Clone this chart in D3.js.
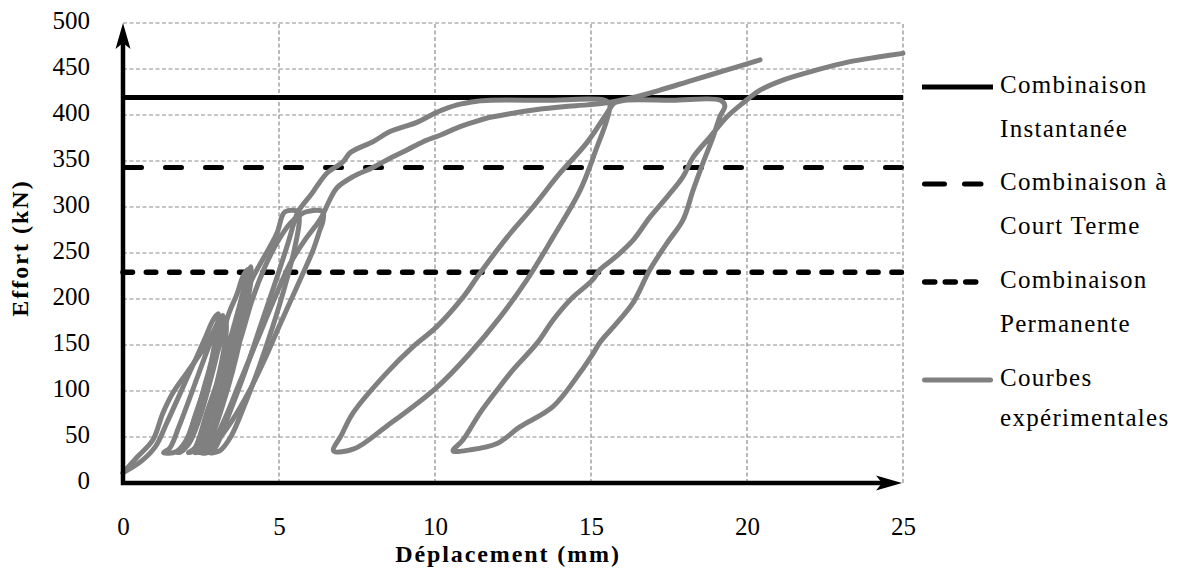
<!DOCTYPE html>
<html>
<head>
<meta charset="utf-8">
<script src="https://cdn.jsdelivr.net/npm/d3@7"></script>
<style>
  html, body { margin: 0; padding: 0; background: #fff; }
  svg { display: block; }
</style>
</head>
<body>
<svg id="chart" width="1181" height="583"></svg>
<script>
// ---------------- DATA ----------------
const xTicks = [0, 5, 10, 15, 20, 25];
const yTicks = [0, 50, 100, 150, 200, 250, 300, 350, 400, 450, 500];
const xTitle = "Déplacement (mm)";
const yTitle = "Effort (kN)";

const combNames = ["Instantanée", "Court Terme", "Permanente"];
const combValues = [419, 343, 229];

const legendLabels = [
  ["Combinaison", "Instantanée"],
  ["Combinaison à", "Court Terme"],
  ["Combinaison", "Permanente"],
  ["Courbes", "expérimentales"]
];

// Experimental curve 1 : [displacement mm, force kN]
const specimenA = [
  [0,11],[0.45,28],[0.96,47],[1.28,76],[1.6,98],[2.05,120],[2.56,145],[2.9,165],[3.1,178],
  [3.05,165],[2.9,140],[2.65,110],[2.35,75],[2.0,45],[1.7,34],[1.3,33],[1.5,38],
  [1.8,62],[2.2,98],[2.6,135],[2.95,165],[3.2,182],
  [3.15,165],[3.0,138],[2.75,105],[2.45,70],[2.1,42],[1.8,33],[2.0,38],
  [2.35,72],[2.75,112],[3.1,150],[3.4,185],[3.65,205],[3.85,225],[4.0,232],
  [3.98,215],[3.85,185],[3.65,150],[3.4,115],[3.1,80],[2.8,50],[2.5,35],[2.3,33],[2.5,38],
  [2.85,75],[3.25,118],[3.6,160],[3.85,200],[4.17,224],[4.71,257],[4.94,272],[5.1,290],[5.2,295],[5.6,295],
  [5.65,285],[5.5,255],[5.2,215],[4.8,170],[4.35,125],[3.9,85],[3.45,50],[3.1,35],[2.75,33],[2.95,38],
  [3.4,75],[3.9,120],[4.4,170],[4.9,220],[5.3,262],[5.5,285],[5.61,295],
  [6.06,315],[6.54,337],[7.05,349],[7.28,359],[8.01,371],[8.56,382],[9.42,392],[10.06,403],[10.71,411],[11.35,415],[11.8,416],
  [13.5,416],[15.45,416],[15.6,412],
  [15.51,395],[15.19,365],[14.65,318],[13.78,267],[12.95,221],[12.08,180],[11.12,141],[10.06,104],[8.46,62],[7.4,37],[6.75,35],
  [7.0,52],[7.37,76],[8.46,120],[9.29,148],[10.06,170],[10.9,202],[11.44,228],[12.31,267],[13.14,300],[14.01,337],[14.87,370],[15.51,402],[15.75,413],[16.1,416],
  [17.6,416],[19.15,416],[19.29,410],
  [19.13,398],[18.91,376],[18.59,348],[18.27,318],[17.95,286],[17.44,261],[16.89,232],[16.35,196],[15.83,174],[15.29,153],[15.07,141],[14.65,120],[13.78,83],[12.72,61],[11.99,43],[11.12,36],[10.58,35],
  [10.9,47],[11.44,76],[11.99,101],[12.5,123],[13.27,152],[13.78,177],[14.33,199],[15.06,221],[15.29,232],[15.8,246],[16.35,264],[16.89,289],[17.44,311],[17.95,333],[18.27,354],[18.81,376],[19.36,398],[19.87,413],[20.42,427],[21.15,438],[22.24,449],[23.3,458],[24.2,463],[25,467]
];

// Experimental curve 2 : [displacement mm, force kN]
const specimenB = [
  [0,11],[0.6,24],[1.05,40],[1.4,65],[1.8,95],[2.2,125],[2.6,155],[2.9,178],[3.05,184],
  [3.0,165],[2.85,135],[2.6,100],[2.3,65],[2.0,40],[1.75,33],[1.95,38],
  [2.3,72],[2.7,112],[3.05,150],[3.3,178],
  [3.3,160],[3.15,130],[2.9,95],[2.6,60],[2.3,36],[2.1,33],[2.3,38],
  [2.7,78],[3.1,118],[3.45,158],[3.75,195],[3.95,222],[4.1,235],
  [4.1,220],[3.95,190],[3.75,155],[3.5,120],[3.2,85],[2.9,55],[2.65,36],[2.45,33],[2.65,38],
  [3.0,75],[3.4,118],[3.8,160],[4.15,200],[4.55,235],[4.95,262],[5.35,282],[5.7,292],[5.9,295],[6.4,295],
  [6.41,285],[6.31,275],[6.09,253],[5.77,228],[5.4,200],[5.0,170],[4.55,135],[4.05,100],[3.5,68],[3.0,45],[2.6,35],[2.5,33],[2.7,33],
  [3.2,65],[3.75,110],[4.3,155],[4.85,200],[5.35,238],[5.85,265],[6.25,283],[6.41,292],
  [6.63,308],[6.86,321],[7.37,333],[8.01,343],[8.56,353],[9.1,362],[9.62,371],[10.16,378],[10.71,386],[11.22,392],[11.7,397],[12.5,402],[13.27,406],[14.1,409],[14.87,411],[15.45,413],
  [16.35,419],[17.21,427],[18.27,438],[19.36,449],[20.42,460]
];

// ---------------- DRAW ----------------
const FONT = "'Liberation Serif', 'DejaVu Serif', serif";
const svg = d3.select("#chart");
const x = d3.scaleLinear().domain([0, 25]).range([123, 903]);
const y = d3.scaleLinear().domain([0, 500]).range([483, 23]);

const gridColor = "#8c8c8c";

// grid
const grid = svg.append("g");
grid.selectAll("line.h").data(yTicks.filter(v => v > 0)).join("line")
  .attr("x1", x(0)).attr("x2", x(25))
  .attr("y1", d => y(d)).attr("y2", d => y(d))
  .attr("stroke", gridColor).attr("stroke-width", 1.2).attr("stroke-dasharray", "4,2.5");
grid.selectAll("line.v").data(xTicks.filter(v => v > 0)).join("line")
  .attr("x1", d => x(d)).attr("x2", d => x(d))
  .attr("y1", y(0)).attr("y2", y(500))
  .attr("stroke", gridColor).attr("stroke-width", 1.2).attr("stroke-dasharray", "4,2.5");

// combination lines
const combStyles = [
  { dash: null, w: 5 },
  { dash: "16,24", w: 5 },
  { dash: "9.5,13.8", w: 5.5 }
];
combValues.forEach((v, i) => {
  const st = combStyles[i];
  const ln = svg.append("line")
    .attr("x1", i === 1 ? x(0) + 2.5 : x(0)).attr("x2", x(25))
    .attr("y1", y(v)).attr("y2", y(v))
    .attr("stroke", "#000").attr("stroke-width", st.w)
    .attr("stroke-linecap", st.dash ? "round" : "butt");
  if (st.dash) ln.attr("stroke-dasharray", st.dash);
});

// experimental curves
const line = d3.line().x(d => x(d[0])).y(d => y(d[1])).curve(d3.curveCatmullRom.alpha(0.5));
[specimenA, specimenB].forEach(s => {
  svg.append("path").attr("d", line(s))
    .attr("fill", "none").attr("stroke", "#808080").attr("stroke-width", 5)
    .attr("stroke-linejoin", "round").attr("stroke-linecap", "round");
});

// axes (tick labels via d3 axes)
const yAxis = svg.append("g").attr("transform", `translate(${x(0)},0)`)
  .call(d3.axisLeft(y).tickValues(yTicks).tickSize(0).tickPadding(33));
yAxis.attr("font-family", FONT).attr("font-size", 25);
yAxis.select(".domain").remove();
yAxis.selectAll("text").attr("dy", "0.22em").attr("fill", "#000");

const xAxis = svg.append("g").attr("transform", `translate(0,${y(0)})`)
  .call(d3.axisBottom(x).tickValues(xTicks).tickSize(0).tickPadding(34));
xAxis.attr("font-family", FONT).attr("font-size", 25);
xAxis.select(".domain").remove();
xAxis.selectAll("text").attr("dy", "0.71em").attr("fill", "#000");

// axis lines with arrows
svg.append("line").attr("x1", x(0)).attr("x2", x(0)).attr("y1", y(0) + 2).attr("y2", y(500) + 18)
  .attr("stroke", "#000").attr("stroke-width", 4.5);
svg.append("path")
  .attr("d", `M${x(0)},${y(500)} L${x(0) - 7.5},${y(500) + 26} L${x(0)},${y(500) + 20} L${x(0) + 7.5},${y(500) + 26} Z`)
  .attr("fill", "#000");
svg.append("line").attr("x1", x(0) - 2).attr("x2", x(25) - 18).attr("y1", y(0)).attr("y2", y(0))
  .attr("stroke", "#000").attr("stroke-width", 4.5);
svg.append("path")
  .attr("d", `M${x(25) - 1},${y(0)} L${x(25) - 27},${y(0) - 7.5} L${x(25) - 21},${y(0)} L${x(25) - 27},${y(0) + 7.5} Z`)
  .attr("fill", "#000");

// axis titles
svg.append("text").attr("x", 508).attr("y", 562).attr("text-anchor", "middle")
  .attr("font-family", FONT).attr("font-size", 24).attr("font-weight", "bold")
  .attr("letter-spacing", 1.9).text(xTitle);
svg.append("text").attr("transform", "translate(28,248) rotate(-90)").attr("text-anchor", "middle")
  .attr("font-family", FONT).attr("font-size", 24).attr("font-weight", "bold")
  .attr("letter-spacing", 2).text(yTitle);

// legend
const legY = [87, 184, 282, 380];
const legStyles = [
  { color: "#000", w: 5, dash: null, x1: 922, x2: 993, cap: "butt" },
  { color: "#000", w: 5, dash: "20,20", x1: 924.5, x2: 981, cap: "round" },
  { color: "#000", w: 5.5, dash: "10,10.5", x1: 924.75, x2: 985, cap: "round" },
  { color: "#808080", w: 5, dash: null, x1: 924.5, x2: 990.5, cap: "round" }
];
legendLabels.forEach((lab, i) => {
  const st = legStyles[i];
  const ln = svg.append("line").attr("x1", st.x1).attr("x2", st.x2)
    .attr("y1", legY[i]).attr("y2", legY[i])
    .attr("stroke", st.color).attr("stroke-width", st.w).attr("stroke-linecap", st.cap);
  if (st.dash) ln.attr("stroke-dasharray", st.dash);
  const t = svg.append("text").attr("x", 1000).attr("font-family", FONT)
    .attr("font-size", 25).attr("letter-spacing", 1.3).attr("fill", "#000");
  t.append("tspan").attr("x", 1000).attr("y", legY[i] + 6).text(lab[0]);
  t.append("tspan").attr("x", 1000).attr("y", legY[i] + (i === 3 ? 46 : 50)).text(lab[1]);
});
</script>
</body>
</html>
